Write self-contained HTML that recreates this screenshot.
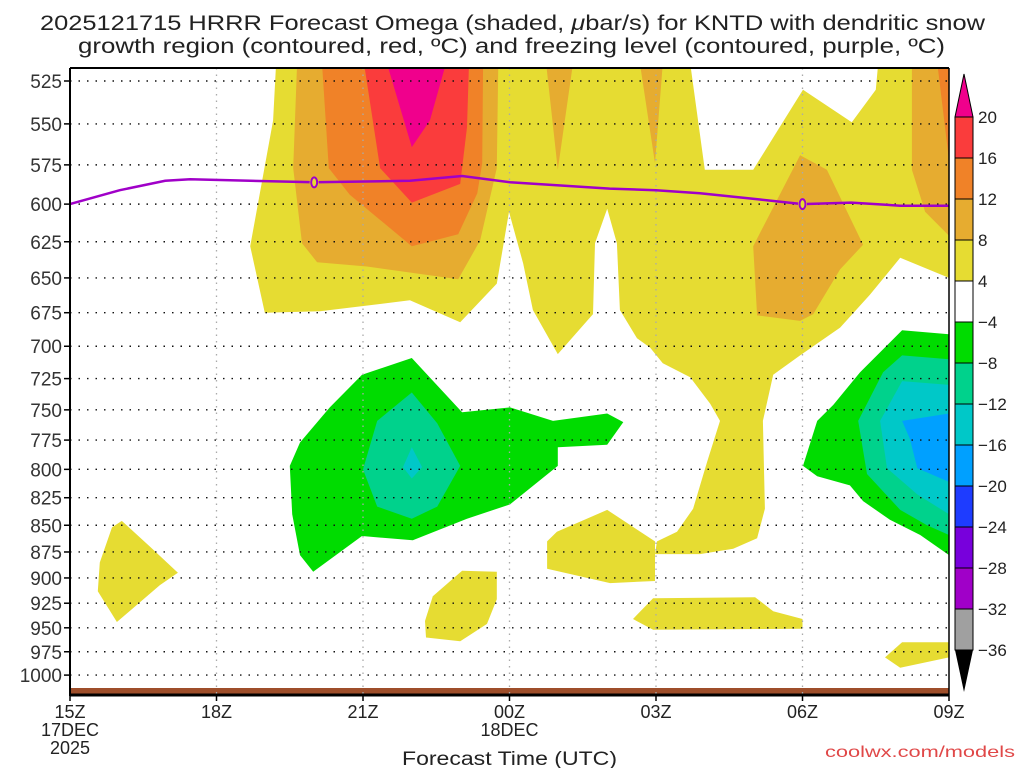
<!DOCTYPE html>
<html><head><meta charset="utf-8"><title>HRRR Omega KNTD</title>
<style>
html,body{margin:0;padding:0;background:#fff;}
body{width:1024px;height:768px;overflow:hidden;font-family:"Liberation Sans",sans-serif;}
svg text{font-family:"Liberation Sans",sans-serif;}
</style></head><body>
<svg id="chart" width="1024" height="768" viewBox="0 0 1024 768" xmlns="http://www.w3.org/2000/svg">
<defs><clipPath id="plotclip"><rect x="70" y="68" width="879" height="627"/></clipPath></defs>
<text x="40" y="30" font-size="21" fill="#222" textLength="945" lengthAdjust="spacingAndGlyphs">2025121715 HRRR Forecast Omega (shaded, <tspan font-style="italic">μ</tspan>bar/s) for KNTD with dendritic snow</text>
<text x="78" y="53" font-size="21" fill="#222" textLength="867" lengthAdjust="spacingAndGlyphs">growth region (contoured, red, ºC) and freezing level (contoured, purple, ºC)</text>
<g id="shading" clip-path="url(#plotclip)"></g>
<rect x="70" y="688" width="879" height="6" fill="#9e4e2a"/>
<g id="grid"></g>
<g id="freezing" clip-path="url(#plotclip)"></g>
<g id="axes"></g>
<g id="colorbar"></g>
<text x="402" y="765" font-size="19" fill="#222" textLength="215" lengthAdjust="spacingAndGlyphs">Forecast Time (UTC)</text>
<text x="825" y="757" font-size="16" fill="#e04848" textLength="190" lengthAdjust="spacingAndGlyphs">coolwx.com/models</text>
</svg>
<script>
// ---- data ----
const pressureTicks = [525,550,575,600,625,650,675,700,725,750,775,800,825,850,875,900,925,950,975,1000];
const hourTicks = [0,3,6,9,12,15,18];
const hourLabels = ["15Z","18Z","21Z","00Z","03Z","06Z","09Z"];
const levelColors = {y:"#e6dc32",o1:"#e6ac30",o2:"#f08228",r:"#fa3c3c",m:"#f0008c",g:"#00dc00",t:"#00d28c",c:"#00c8c8",b:"#00a0ff"};
// contour polygons in [hour since 15Z, hPa]
const yellowMain = [[4.22,515],[4.16,548],[3.69,628],[3.99,675],[5.12,674],[6.96,666],[7.99,682],[8.74,654],[8.99,605],[9.28,640],[9.48,673],[9.99,706],[10.71,676],[10.75,626],[11.0,603],[11.2,626],[11.26,673],[11.61,694],[11.88,701],[12.14,713],[12.7,724],[13.11,745],[13.31,759],[13.05,793],[12.76,835],[12.43,856],[12.02,865],[11.98,877],[12.9,877],[13.58,872],[14.07,862],[14.23,835],[14.19,759],[14.4,722],[14.95,707],[15.77,686],[16.38,662],[17.0,636],[18,650],[18,515],[16.55,515],[16.5,530],[16.01,549],[15.01,530],[13.99,578],[13.0,578],[12.7,515]];
const yellowMid = [[9.77,865],[9.97,856],[11.0,836],[11.98,865],[11.98,903],[11.06,905],[9.77,891]];
const yellowBlob = [[7.27,943],[7.43,918],[8.03,893],[8.74,894],[8.74,921],[8.54,946],[7.99,964],[7.29,960]];
const yellowBand = [[11.53,941],[11.94,920],[14.03,919],[14.4,933],[15.0,941],[15.0,951],[11.94,952]];
const yellowBR = [[16.69,981],[17.04,965],[18,965],[18,981],[17.0,992]];
const yellowLeft = [[0.86,852],[1.06,846],[1.64,870],[2.21,895],[1.84,907],[0.96,944],[0.57,913],[0.61,885]];
const orangeRC = [[13.99,628],[14.95,569],[15.5,578],[16.24,627],[15.77,644],[15.22,676],[14.95,681],[14.07,677]];
const orangeRS = [[17.24,515],[17.24,578],[17.51,605],[18,621],[18,515]];
const darkOrangeR = [[17.76,515],[18,572],[18,515]];
const orangeS1 = [[9.75,515],[10.3,515],[9.99,578]];
const orangeS2 = [[11.67,515],[12.14,515],[11.98,574]];
const orangeL = [[4.65,515],[4.57,577],[4.75,626],[5.06,639],[6.08,642],[7.95,651],[8.4,624],[8.74,577],[8.77,515]];
const darkOrangeL = [[5.16,515],[5.3,577],[5.73,594],[7.0,628],[7.95,620],[8.34,593],[8.44,574],[8.46,515]];
const redL = [[6.02,515],[6.35,577],[7.0,599],[7.99,587],[8.13,552],[8.17,515]];
const magentaL = [[6.49,515],[7.0,564],[7.37,548],[7.7,515]];
const greenL = [[4.5,797],[4.71,777],[5.32,748],[5.98,722],[7.0,709],[8.03,752],[9.01,748],[9.89,759],[11.0,753],[11.33,760],[11.0,779],[9.99,781],[9.99,797],[9.01,831],[8.13,844],[7.02,864],[5.98,860],[4.98,894],[4.71,878],[4.55,840]];
const tealL = [[6.29,759],[7.0,736],[7.52,761],[7.99,797],[7.52,833],[7.0,844],[6.29,833],[6.0,800]];
const cyanL = [[7.0,781],[7.21,798],[7.0,808],[6.82,798]];
const greenR = [[17.04,688],[18,691],[18,878],[17.41,859],[16.79,845],[16.24,828],[15.97,814],[15.3,806],[15.01,797],[15.3,759],[15.63,746],[16.18,720]];
const tealR = [[17.04,707],[18,710],[18,859],[17.55,850],[17.0,836],[16.32,804],[16.14,759],[16.65,720]];
const cyanR = [[17.04,727],[18,730],[18,840],[17.35,822],[16.73,799],[16.59,759]];
const blueR = [[17.04,759],[18,753],[18,811],[17.35,799],[17.2,774]];
const freezingHours = [0,1.02,1.95,2.46,3.69,5.0,6.96,8.03,9.01,11.05,12,12.9,14.13,15,16,17,18];
const freezingP = [600,591,585,584,585,586,585,582,586,590,591,593,597,600,599,601,601];
const freezingLabelHours = [5.0,15.0];
const cbLevels = [20,16,12,8,4,-4,-8,-12,-16,-20,-24,-28,-32,-36];
const cbColors = ["#fa3c3c","#f08228","#e6ac30","#e6dc32","#ffffff","#00dc00","#00d28c","#00c8c8","#00a0ff","#1e3cff","#7800dc","#a000c8","#a0a0a0"];

// ---- scales ----
const X0=70, X1=949, YTOP=68, YBOT=695;
function xs(h){return X0+(X1-X0)*h/18;}
function ys(p){return 81+922*Math.log(p/525);}
const NS="http://www.w3.org/2000/svg";
function mk(tag,attrs,parent){const e=document.createElementNS(NS,tag);for(const k in attrs)e.setAttribute(k,attrs[k]);parent.appendChild(e);return e;}

const shading=document.getElementById('shading');
const layers=[
 [yellowMain,levelColors.y,'omega-4-8-main'],[yellowMid,levelColors.y,'omega-4-8-mid'],[yellowBlob,levelColors.y,'omega-4-8-blob'],
 [yellowBand,levelColors.y,'omega-4-8-band'],[yellowBR,levelColors.y,'omega-4-8-lower-right'],[yellowLeft,levelColors.y,'omega-4-8-left'],
 [orangeRC,levelColors.o1,'omega-8-12-right-center'],[orangeRS,levelColors.o1,'omega-8-12-right-edge'],[darkOrangeR,levelColors.o2,'omega-12-16-right-edge'],
 [orangeS1,levelColors.o1,'omega-8-12-strip-a'],[orangeS2,levelColors.o1,'omega-8-12-strip-b'],
 [orangeL,levelColors.o1,'omega-8-12-left'],[darkOrangeL,levelColors.o2,'omega-12-16-left'],[redL,levelColors.r,'omega-16-20-left'],[magentaL,levelColors.m,'omega-20-plus-left'],
 [greenL,levelColors.g,'omega-neg4-neg8-left'],[tealL,levelColors.t,'omega-neg8-neg12-left'],[cyanL,levelColors.c,'omega-neg12-neg16-left'],
 [greenR,levelColors.g,'omega-neg4-neg8-right'],[tealR,levelColors.t,'omega-neg8-neg12-right'],[cyanR,levelColors.c,'omega-neg12-neg16-right'],[blueR,levelColors.b,'omega-neg16-neg20-right']
];
layers.forEach(function(L){
 const pts=L[0].map(function(d){return xs(d[0]).toFixed(1)+','+ys(d[1]).toFixed(1);}).join(' ');
 const el=mk('polygon',{points:pts,fill:L[1]},shading);
 
 
});

// grid
const grid=document.getElementById('grid');
pressureTicks.forEach(function(p){
 const y=ys(p);
 const el=mk('line',{x1:X0,x2:X1,y1:y,y2:y,stroke:'#111','stroke-width':1.4,'stroke-dasharray':'1.5 7'},grid);
 
 
});
hourTicks.forEach(function(h){
 if(h===0||h===18)return;
 const x=xs(h);
 const el=mk('line',{x1:x,x2:x,y1:YTOP,y2:YBOT,stroke:'#aaa','stroke-width':1.3,'stroke-dasharray':'1.5 5'},grid);
 
 
});

// freezing line
const fz=document.getElementById('freezing');
const fpts=freezingHours.map(function(h,i){return xs(h).toFixed(1)+','+ys(freezingP[i]).toFixed(1);}).join(' ');
const fl=mk('polyline',{points:fpts,fill:'none',stroke:'#a000c8','stroke-width':2.5},fz);


freezingLabelHours.forEach(function(h){
 let i=0;while(i<freezingHours.length-1&&freezingHours[i+1]<h)i++;
 const t=(h-freezingHours[i])/(freezingHours[i+1]-freezingHours[i]);
 const p=freezingP[i]+t*(freezingP[i+1]-freezingP[i]);
 const x=xs(h),y=ys(p);
 const bg=mk('ellipse',{cx:x,cy:y,rx:4.5,ry:6,fill:'#e6dc32'},fz);
 
 
 const e=mk('ellipse',{cx:x,cy:y,rx:3,ry:5,fill:'none',stroke:'#a000c8','stroke-width':2},fz);
 
 
});

// axes
const ax=document.getElementById('axes');
mk('line',{x1:X0,x2:X1,y1:YTOP,y2:YTOP,stroke:'#000','stroke-width':2},ax);
mk('line',{x1:X0,x2:X0,y1:YTOP,y2:YBOT+1,stroke:'#000','stroke-width':2},ax);
mk('line',{x1:X1,x2:X1,y1:YTOP,y2:YBOT,stroke:'#000','stroke-width':1.5},ax);
mk('line',{x1:X0,x2:X1,y1:YBOT,y2:YBOT,stroke:'#000','stroke-width':3},ax);
pressureTicks.forEach(function(p){
 const y=ys(p);
 mk('line',{x1:X0-6,x2:X0,y1:y,y2:y,stroke:'#000','stroke-width':1.5},ax);
 const t=mk('text',{x:X0-8,y:y+7,'text-anchor':'end','font-size':19,fill:'#333'},ax);
 t.textContent=p;
 
 
});
hourTicks.forEach(function(h,i){
 const x=xs(h);
 mk('line',{x1:x,x2:x,y1:YBOT,y2:YBOT+6,stroke:'#000','stroke-width':1.5},ax);
 const t=mk('text',{x:x,y:718,'text-anchor':'middle','font-size':18,fill:'#222'},ax);
 t.textContent=hourLabels[i];
 
 
});
[['17DEC',0,736],['2025',0,754],['18DEC',9,736]].forEach(function(d){
 const t=mk('text',{x:xs(d[1]),y:d[2],'text-anchor':'middle','font-size':18,fill:'#222'},ax);
 t.textContent=d[0];
 
 
});

// colorbar
const cb=document.getElementById('colorbar');
const CBX=955,CBW=18,CBT=117,CBH=41;
const up=mk('polygon',{points:(CBX)+','+CBT+' '+(CBX+CBW)+','+CBT+' '+(CBX+CBW/2)+',74',fill:'#f0008c',stroke:'#000','stroke-width':1},cb);


cbColors.forEach(function(c,i){
 const r=mk('rect',{x:CBX,y:CBT+i*CBH,width:CBW,height:CBH,fill:c,stroke:'#000','stroke-width':1},cb);
 
 
});
const yb=CBT+cbColors.length*CBH;
const dn=mk('polygon',{points:CBX+','+yb+' '+(CBX+CBW)+','+yb+' '+(CBX+CBW/2)+',692',fill:'#000'},cb);


cbLevels.forEach(function(v,i){
 const t=mk('text',{x:978,y:CBT+i*CBH+6,'font-size':17,fill:'#222'},cb);
 t.textContent=(v<0?'\u2212'+(-v):String(v));
 
 
});
</script>
</body></html>
